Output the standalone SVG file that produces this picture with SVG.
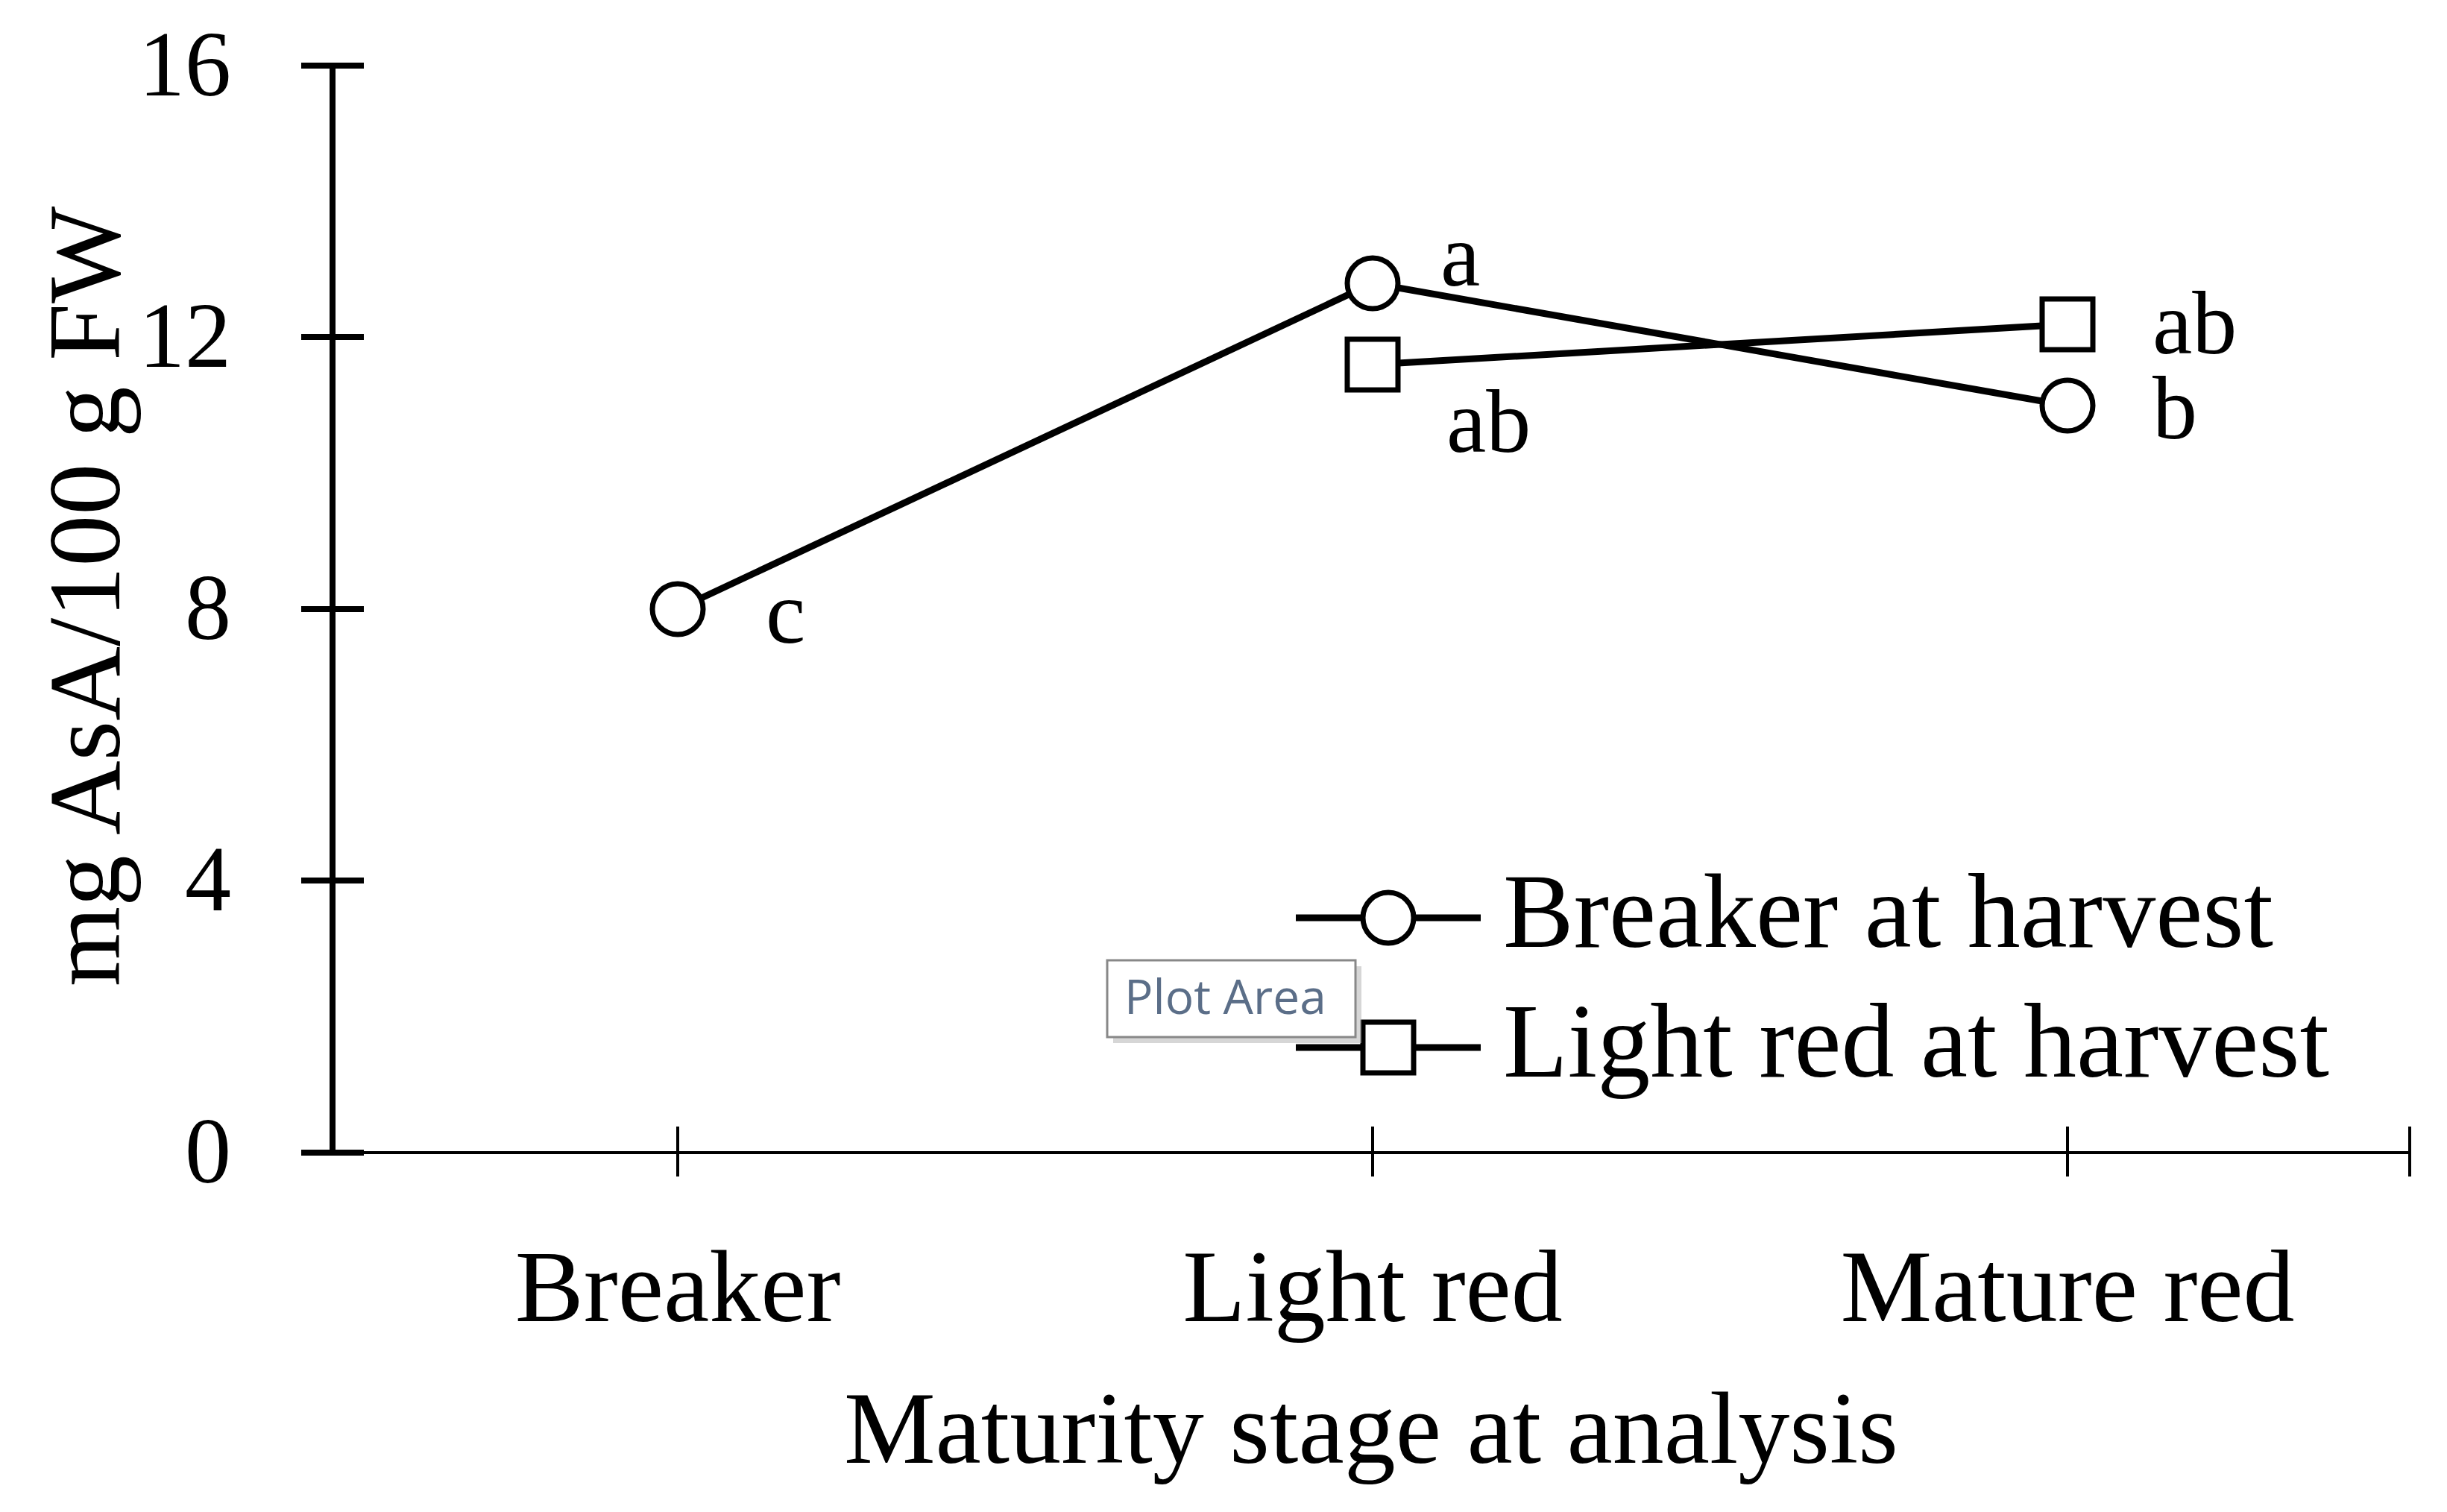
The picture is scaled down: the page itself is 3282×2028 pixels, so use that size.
<svg xmlns="http://www.w3.org/2000/svg" width="3282" height="2028" viewBox="0 0 3282 2028">
<style>
text{font-family:"Liberation Serif","Times New Roman",serif;fill:#000}
.ax{stroke:#000;stroke-width:8;fill:none}
.ax2{stroke:#000;stroke-width:4;fill:none}
.ln{stroke:#000;stroke-width:9;fill:none}
.mk{stroke:#000;stroke-width:7;fill:#fff}
.tl{font-size:124px;text-anchor:end}
.lb{font-size:120px}
.xl{font-size:138px;text-anchor:middle}
</style>
<rect width="3282" height="2028" fill="#fff"/>
<g id="axes">
<line class="ax" x1="446" y1="88" x2="446" y2="1546"/>
<line class="ax2" x1="446" y1="1546" x2="3232" y2="1546"/>
<path class="ax" d="M404 88H488M404 452H488M404 817H488M404 1181H488M404 1546H488"/>
<path class="ax2" d="M909 1511V1578M1841 1511V1578M2773 1511V1578M3232 1511V1578"/>
<text class="tl" x="310" y="128">16</text>
<text class="tl" x="310" y="492">12</text>
<text class="tl" x="310" y="857">8</text>
<text class="tl" x="310" y="1221">4</text>
<text class="tl" x="310" y="1586">0</text>
<text class="xl" x="909" y="1772">Breaker</text>
<text class="xl" x="1841" y="1772">Light red</text>
<text class="xl" x="2773" y="1772">Mature red</text>
<text class="xl" x="1839" y="1962">Maturity stage at analysis</text>
<text class="xl" transform="translate(160 800) rotate(-90)">mg AsA/100 g FW</text>
</g>
<g id="connectors">
<polyline class="ln" points="909,817 1841,380 2773,544"/>
<polyline class="ln" points="1841,489 2773,435"/>
</g>
<g id="breaker-series">
<circle class="mk" cx="909" cy="817" r="34"/>
<circle class="mk" cx="1841" cy="380" r="34"/>
<circle class="mk" cx="2773" cy="544" r="34"/>
</g>
<g id="lightred-series">
<rect class="mk" x="1807" y="455" width="68" height="68"/>
<rect class="mk" x="2739" y="401" width="68" height="68"/>
</g>
<g id="letters">
<text class="lb" x="1027" y="862">c</text>
<text class="lb" x="1932" y="383">a</text>
<text class="lb" x="1940" y="606">ab</text>
<text class="lb" x="2887" y="474">ab</text>
<text class="lb" x="2887" y="588">b</text>
</g>
<g id="legend">
<line class="ln" x1="1738" y1="1231" x2="1986" y2="1231"/>
<circle class="mk" cx="1862" cy="1231" r="34"/>
<text x="2016" y="1270" font-size="142">Breaker at harvest</text>
<line class="ln" x1="1738" y1="1405" x2="1986" y2="1405"/>
<rect class="mk" x="1828" y="1371" width="68" height="68"/>
<text x="2016" y="1444" font-size="142">Light red at harvest</text>
</g>
<g id="tooltip">
<rect x="1493" y="1296" width="333" height="103" fill="#bbb" opacity="0.6"/>
<rect x="1485" y="1288" width="333" height="103" fill="#fff" stroke="#888" stroke-width="3"/>
<text x="1508" y="1360" font-size="64" style="font-family:'Open Sans','Liberation Sans',sans-serif;fill:#5b6e88">Plot Area</text>
</g>
</svg>
